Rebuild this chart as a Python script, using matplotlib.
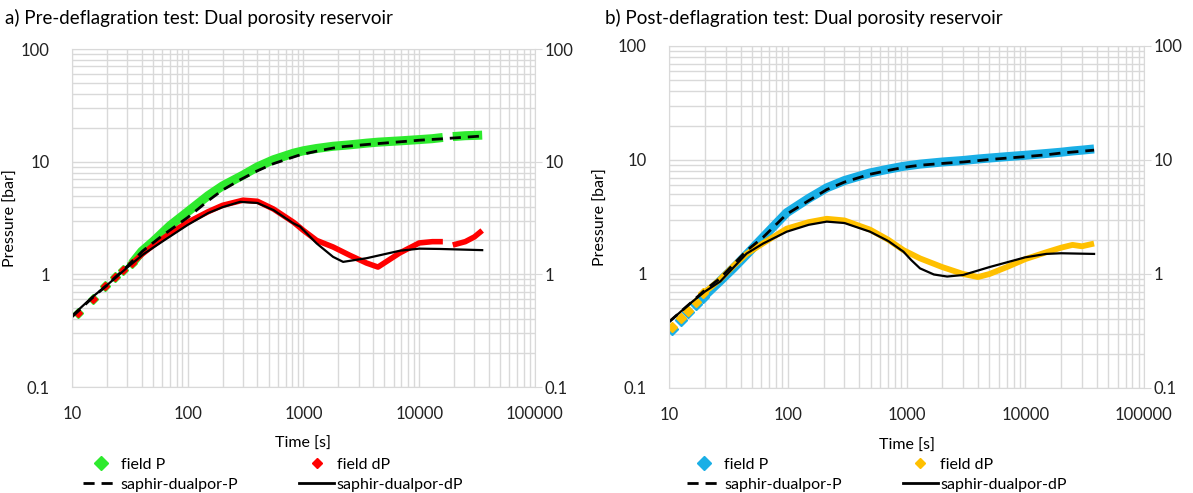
import numpy as np
import matplotlib.pyplot as plt
from matplotlib.ticker import FuncFormatter, LogLocator, NullFormatter
from matplotlib.lines import Line2D

plt.rcParams['font.family'] = ['Lato', 'DejaVu Sans']

nan = np.nan

# a) pre-deflagration test (field data, first 6 points are single readings)
a_field_t = [11.3, 15.2, 19.3, 23.5, 27.6, 33, 40, 50, 70, 100, 150, 200, 300, 400, 550, 820, 1000, 1300, 1800, 2500,
             3500, 4400, 6800, 10000, 13000, 16000, nan, 19500, 25000, 30000, 35000]
a_field_P = [0.456, 0.61, 0.78, 0.95, 1.09, 1.25, 1.6, 1.95, 2.7, 3.6, 5.0, 6.1, 7.6, 9.0, 10.4, 11.9, 12.5, 13.1, 13.7,
             14.1, 14.6, 14.9, 15.3, 15.7, 16.0, 16.4, nan, 16.7, 17.0, 17.1, 17.2]
a_field_dP = [0.456, 0.61, 0.78, 0.95, 1.09, 1.25, 1.5, 1.8, 2.3, 2.9, 3.6, 4.1, 4.55, 4.45, 3.8, 2.9, 2.45, 2.0, 1.75,
              1.48, 1.26, 1.16, 1.55, 1.9, 1.95, 1.95, nan, 1.82, 1.95, 2.15, 2.45]
a_model_t = [10, 12, 15, 20, 30, 41, 60, 100, 150, 200, 283, 400, 550, 820, 935, 1300, 1800, 2200, 3500, 6800, 10000,
             15000, 35000]
a_model_P = [0.42, 0.5, 0.62, 0.8, 1.18, 1.62, 2.2, 3.2, 4.5, 5.6, 6.9, 8.3, 9.6, 11.0, 11.5, 12.4, 13.2, 13.6, 14.2,
             15.0, 15.5, 15.9, 16.9]
a_model_dP = [0.43, 0.51, 0.63, 0.8, 1.15, 1.5, 1.95, 2.75, 3.5, 3.95, 4.4, 4.3, 3.72, 2.83, 2.65, 1.88, 1.43, 1.29,
              1.39, 1.62, 1.69, 1.68, 1.64]

# b) post-deflagration test
b_field_t = [10.5, 12.6, 14.5, 16.9, 19.5, 22, 27, 35, 45, 62, 98, 150, 213, 300, 493, 700, 942, 1300, 2000, 3000,
             4000, 5000, 7000, 10000, 15000, 20000, 25000, 30000, 38000]
b_field_P = [0.327, 0.394, 0.46, 0.546, 0.63, 0.71, 0.87, 1.13, 1.48, 2.1, 3.45, 4.6, 5.7, 6.6, 7.7, 8.3, 8.8, 9.2, 9.6,
             9.9, 10.2, 10.4, 10.7, 11.0, 11.4, 11.7, 12.0, 12.2, 12.5]
b_field_dP = [0.345, 0.41, 0.476, 0.57, 0.68, 0.75, 0.9, 1.18, 1.5, 1.86, 2.5, 2.85, 3.05, 2.95, 2.45, 2.0, 1.62,
              1.37, 1.15, 1.0, 0.94, 1.0, 1.15, 1.35, 1.55, 1.7, 1.8, 1.75, 1.85]
b_model_t = [10, 15, 20, 27, 45, 62, 98, 150, 213, 300, 493, 700, 942, 1100, 1300, 1700, 2200, 3000, 5000, 10000,
             15000, 20000, 38000]
b_model_P = [0.38, 0.55, 0.72, 0.92, 1.6, 2.1, 3.35, 4.4, 5.5, 6.4, 7.5, 8.1, 8.6, 8.8, 9.0, 9.2, 9.4, 9.6, 10.1, 10.7,
             11.1, 11.5, 12.2]
b_model_dP = [0.38, 0.55, 0.7, 0.86, 1.51, 1.85, 2.35, 2.7, 2.88, 2.8, 2.35, 1.95, 1.57, 1.32, 1.12, 0.99, 0.95,
              0.98, 1.15, 1.4, 1.5, 1.52, 1.5]

a_sparse = 6   # single diamonds before the dense band
b_sparse = 5

green = '#2EEA2E'
red = '#FF0000'
blue = '#1AAFE6'
orange = '#FFC000'
gridc = '#D9D9D9'


def fmt(v, pos):
    return '{:g}'.format(v)


def setup(ax, ylab_x):
    ax.set_xscale('log')
    ax.set_yscale('log')
    ax.set_xlim(10, 100000)
    ax.set_ylim(0.1, 100)
    ax.xaxis.set_major_locator(LogLocator(base=10))
    ax.xaxis.set_minor_locator(LogLocator(base=10, subs=np.arange(2, 10)))
    ax.yaxis.set_minor_locator(LogLocator(base=10, subs=np.arange(2, 10)))
    ax.xaxis.set_major_formatter(FuncFormatter(fmt))
    ax.yaxis.set_major_formatter(FuncFormatter(fmt))
    ax.xaxis.set_minor_formatter(NullFormatter())
    ax.yaxis.set_minor_formatter(NullFormatter())
    ax.grid(True, which='both', color=gridc, lw=1)
    ax.set_axisbelow(True)
    for s in ax.spines.values():
        s.set_color(gridc)
    ax.tick_params(which='both', length=0, labelsize=12, colors='#222222')
    ax.tick_params(axis='x', pad=14)
    ax.tick_params(axis='y', pad=16)
    ax.set_xlabel('Time [s]', fontsize=11.5)
    ax.set_ylabel('Pressure [bar]', fontsize=11.5)
    ax.xaxis.set_label_coords(0.5, -0.148)
    ax.yaxis.set_label_coords(ylab_x, 0.5)
    tw = ax.twinx()
    tw.set_yscale('log')
    tw.set_ylim(0.1, 100)
    tw.yaxis.set_major_formatter(FuncFormatter(fmt))
    tw.yaxis.set_minor_formatter(NullFormatter())
    tw.tick_params(which='major', length=5, color=gridc, labelsize=12, pad=2, labelcolor='#222222')
    tw.tick_params(which='minor', length=0)
    for s in tw.spines.values():
        s.set_visible(False)


def draw(ax, ft, fP, fdP, mt, mP, mdP, cP, cdP, n, msP, msdP, lwP, lwdP):
    ax.plot(ft[:n], fP[:n], 'D', color=cP, ms=msP, mec=cP, ls='none')
    ax.plot(ft[n - 1:], fP[n - 1:], '-', color=cP, lw=lwP, solid_capstyle='butt')
    ax.plot(ft[:n], fdP[:n], 'D', color=cdP, ms=msdP, mec=cdP, ls='none')
    ax.plot(ft[n - 1:], fdP[n - 1:], '-', color=cdP, lw=lwdP, solid_capstyle='butt')
    ax.plot(mt, mP, '--', color='black', lw=2, dashes=(4, 2.5))
    ax.plot(mt, mdP, '-', color='black', lw=1.6)


def legend(ax, cP, cdP, xc):
    h = [Line2D([], [], ls='none', marker='D', color=cP, ms=7),
         Line2D([], [], ls='--', color='black', lw=2, dashes=(4, 2.5)),
         Line2D([], [], ls='none', marker='D', color=cdP, ms=5),
         Line2D([], [], ls='-', color='black', lw=2)]
    lab = ['field P', 'saphir-dualpor-P', 'field dP', 'saphir-dualpor-dP']
    ax.legend(h, lab, loc='upper center', bbox_to_anchor=(xc, 0.088), bbox_transform=ax.figure.transFigure,
              ncol=2, frameon=False, fontsize=11.5, handlelength=2.2, handletextpad=0.15,
              columnspacing=3.8, labelspacing=0.35, borderpad=0)


fig = plt.figure(figsize=(11.93, 4.93), dpi=100)
axL = fig.add_axes([0.0604, 0.215, 0.388, 0.6856])
axR = fig.add_axes([0.5608, 0.213, 0.3981, 0.6937])

setup(axL, -0.117)
setup(axR, -0.128)
draw(axL, a_field_t, a_field_P, a_field_dP, a_model_t, a_model_P, a_model_dP, green, red,
     a_sparse, 5.5, 4.5, 6.5, 4)
draw(axR, b_field_t, b_field_P, b_field_dP, b_model_t, b_model_P, b_model_dP, blue, orange,
     b_sparse, 6.5, 5, 6.5, 4.2)
legend(axL, green, red, 0.229)
legend(axR, blue, orange, 0.735)

fig.text(0.004, 0.963, 'a) Pre-deflagration test: Dual porosity reservoir', fontsize=13.5, va='center')
fig.text(0.507, 0.963, 'b) Post-deflagration test: Dual porosity reservoir', fontsize=13.5, va='center')

fig.savefig('out.png', dpi=100)
